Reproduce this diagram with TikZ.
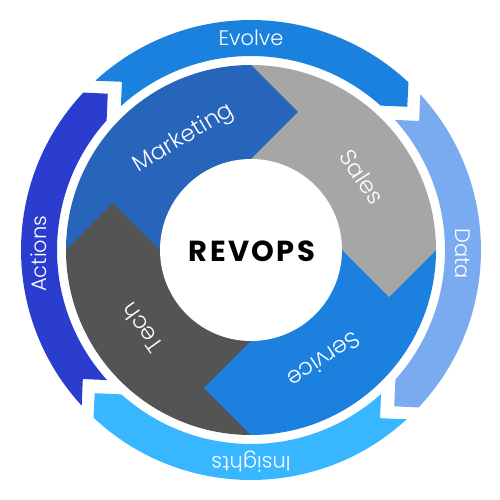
\documentclass[tikz,border=0pt]{standalone}
\usepackage{fontspec}
\IfFontExistsTF{Poppins Light}{\newfontfamily\lblfont{Poppins Light}}{\newfontfamily\lblfont{Poppins}}
\newfontfamily\revfont{Poppins}[LetterSpace=8]
\definecolor{cEvolve}{HTML}{1A82DE}
\definecolor{cData}{HTML}{7AAAF0}
\definecolor{cInsights}{HTML}{38B6FF}
\definecolor{cActions}{HTML}{2B3DCE}
\definecolor{cMark}{HTML}{2665BA}
\definecolor{cSales}{HTML}{A6A6A6}
\definecolor{cServ}{HTML}{1B80DE}
\definecolor{cTech}{HTML}{545454}
\definecolor{cCenterEdge}{HTML}{EDEDED}
\pgfdeclareradialshading{centerglow}{\pgfpoint{0bp}{0bp}}{color(0bp)=(white); color(25bp)=(white); color(50bp)=(cCenterEdge)}
\begin{document}
\begin{tikzpicture}[x=1pt,y=1pt,
  lbl/.style={text=white,font=\lblfont\fontsize{23}{23}\selectfont,inner sep=0pt},
  olbl/.style={text=white,font=\lblfont\fontsize{21}{21}\selectfont,inner sep=0pt}]
\useasboundingbox (-251,-250) rectangle (249,250);
% outer ring of arrows
\foreach \col/\rot in {cEvolve/0,cData/-90,cInsights/-180,cActions/-270}{
  \begin{scope}[rotate=\rot]
  \fill[\col] (132.6:230) arc[start angle=132.6,end angle=46.8,radius=230]
    -- (42.5:212) -- (48.1:194) arc[start angle=48.1,end angle=132.1,radius=194]
    -- (127.5:212) -- cycle;
  \end{scope}
}
% inner segments
\fill[cMark]  (0,0) -- (180:185) arc[start angle=180,end angle=90,radius=185] -- cycle;
\fill[cSales] (0,0) -- (90:185) arc[start angle=90,end angle=0,radius=185] -- cycle;
\fill[cServ]  (0,0) -- (0:185) arc[start angle=0,end angle=-90,radius=185] -- cycle;
\fill[cTech]  (0,0) -- (-90:185) arc[start angle=-90,end angle=-180,radius=185] -- cycle;
% chevron tips
\fill[cMark]  (-1,184) -- (0,185) -- (47,138) -- (0,91) -- (-1,91) -- cycle;
\fill[cSales] (184,1) -- (185,0) -- (138,-47) -- (91,0) -- (91,1) -- cycle;
\fill[cServ]  (1,-184) -- (0,-185) -- (-47,-138) -- (0,-91) -- (1,-91) -- cycle;
\fill[cTech]  (-184,-1) -- (-185,0) -- (-138,47) -- (-91,0) -- (-91,-1) -- cycle;
% center
\shade[shading=centerglow] (0,0) circle (91);
\node[font=\revfont\bfseries\fontsize{29}{29}\selectfont,inner sep=0pt] (rev) at (1,-1) {REVOPS};
% labels
\node[lbl, rotate=31] (mk) at (121:130) {Marketing};
\node[lbl, rotate=-56.7] (sl) at (33.3:133) {Sales};
\node[lbl, rotate=-146.4] (sv) at (-56.4:132) {Service};
\node[lbl, rotate=125.6] (th) at (215.6:134) {Tech};
\node[olbl] (ev) at (90:212) {Evolve};
\node[olbl, rotate=-90] (da) at (-1:212) {Data};
\node[olbl, rotate=180] (ins) at (-90:212) {Insights};
\node[olbl, rotate=90] (ac) at (181:212) {Actions};
\end{tikzpicture}
\end{document}
